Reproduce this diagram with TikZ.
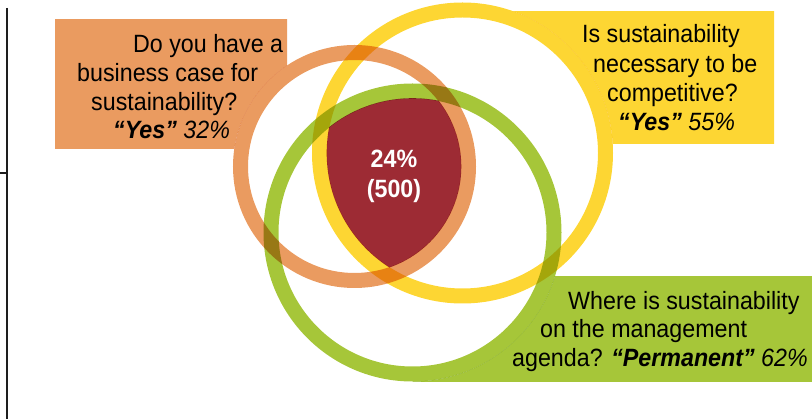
\documentclass[tikz,border=0pt]{standalone}
\usepackage{fontspec}
\setmainfont{Liberation Sans}[FakeStretch=0.93]
\definecolor{corange}{RGB}{234,155,96}
\definecolor{cyellow}{RGB}{253,214,51}
\definecolor{cgreen}{RGB}{166,198,57}
\definecolor{cred}{RGB}{157,43,52}
\definecolor{cline}{RGB}{30,30,30}
\begin{document}
\begin{tikzpicture}[x=1pt,y=-1pt,
  ring/.style={line width=15pt, blend mode=multiply},
  txt/.style={anchor=base west, inner sep=0pt, font=\fontsize{25}{29}\selectfont, text=black},
  ctxt/.style={anchor=base, inner sep=0pt, font=\fontsize{25}{29}\selectfont\bfseries, text=white},
  frame/.style={draw=cline, line width=1.1pt}]
\useasboundingbox (0,0) rectangle (812,419);
\coordinate (O) at (354.5,166.5);
\coordinate (Y) at (462.5,153);
\coordinate (G) at (412.5,232.5);
% left frame lines
\coordinate (ftop) at (7,8);
\coordinate (fbot) at (7,419);
\coordinate (hl) at (0,173);
\coordinate (hr) at (7,173);
\draw[frame] (ftop) -- (fbot);
\draw[frame] (hl) -- (hr);
% boxes (outside their own circle)
\begin{scope}
  \clip (55,20) rectangle (287,149);
  \fill[corange, even odd rule] (-200,-300) rectangle (1000,700) (O) circle[radius=121.5];
\end{scope}
\begin{scope}
  \clip (462.5,12) rectangle (774,144);
  \fill[cyellow, even odd rule] (-200,-300) rectangle (1000,700) (Y) circle[radius=150.5];
\end{scope}
\begin{scope}
  \clip (412.5,277) rectangle (812,382);
  \fill[cgreen, even odd rule] (-200,-300) rectangle (1000,700) (G) circle[radius=149];
\end{scope}
% common intersection
\begin{scope}
  \clip (O) circle[radius=106.8];
  \clip (Y) circle[radius=135.8];
  \clip (G) circle[radius=134.3];
  \fill[cred] (O) circle[radius=130];
\end{scope}
% rings
\draw[ring, corange] (O) circle[radius=114];
\draw[ring, cyellow] (Y) circle[radius=143];
\draw[ring, cgreen] (G) circle[radius=141.5];
% texts
\node[txt] (o1) at (133,53) {Do you have a};
\node[txt] (o2) at (77,82) {business case for};
\node[txt] (o3) at (91,111) {sustainability?};
\node[txt] (o4) at (113,139) {\textbf{\textit{“Yes”}} \textit{32\%}};
\node[txt] (y1) at (582,43) {Is sustainability};
\node[txt] (y2) at (593,73) {necessary to be};
\node[txt] (y3) at (607,102) {competitive?};
\node[txt] (y4) at (618,131) {\textbf{\textit{“Yes”}} \textit{55\%}};
\node[txt] (g1) at (568,310) {Where is sustainability};
\node[txt] (g2) at (540,338) {on the management};
\node[txt] (g3) at (512,367) {agenda? \textbf{\textit{“Permanent”}} \textit{62\%}};
\node[ctxt] (c1) at (394,168) {24\%};
\node[ctxt] (c2) at (394,198) {(500)};
\end{tikzpicture}
\end{document}
